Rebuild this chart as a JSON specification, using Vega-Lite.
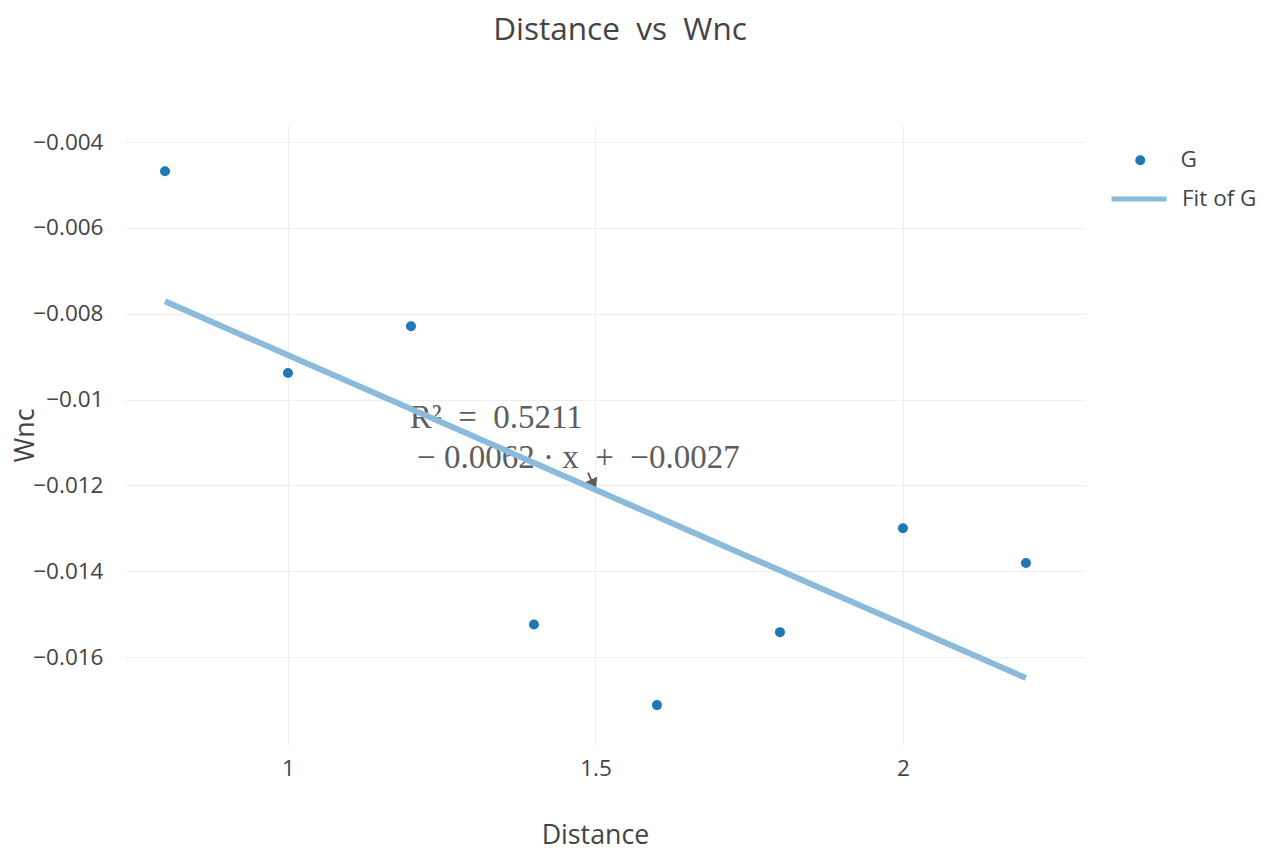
{
  "$schema": "https://vega.github.io/schema/vega-lite/v6.json",
  "width": 960,
  "height": 620,
  "autosize": {"type": "none"},
  "padding": {"left": 125, "top": 125, "right": 187, "bottom": 108},
  "background": "white",
  "config": {
    "view": {"stroke": null},
    "font": "Open Sans",
    "axis": {"domain": false, "ticks": false, "gridColor": "#eeeeee", "gridWidth": 1, "labelColor": "#444444", "titleColor": "#444444", "labelFont": "Open Sans", "titleFont": "Open Sans", "titleFontWeight": "normal"},
    "legend": {"labelFont": "Open Sans", "labelColor": "#444444", "labelFontSize": 22.5, "title": null}
  },
  "title": {"text": "Distance \u00a0vs \u00a0Wnc", "fontSize": 31.5, "font": "Open Sans", "fontWeight": "normal", "color": "#444444", "anchor": "middle", "baseline": "alphabetic", "offset": 54, "dx": 15},
  "datasets": {
    "pts": [
      {"Distance": 0.8, "Wnc": -0.00468, "series": "G"},
      {"Distance": 1.0, "Wnc": -0.00938, "series": "G"},
      {"Distance": 1.2, "Wnc": -0.00829, "series": "G"},
      {"Distance": 1.4, "Wnc": -0.01524, "series": "G"},
      {"Distance": 1.6, "Wnc": -0.01712, "series": "G"},
      {"Distance": 1.8, "Wnc": -0.01542, "series": "G"},
      {"Distance": 2.0, "Wnc": -0.0130, "series": "G"},
      {"Distance": 2.2, "Wnc": -0.01381, "series": "G"}
    ],
    "fit": [
      {"Distance": 0.8, "Wnc": -0.00771, "series": "Fit of G"},
      {"Distance": 2.2, "Wnc": -0.01649, "series": "Fit of G"}
    ],
    "ann": [
      {"x": 1.198, "y": -0.01066, "label": "R²\u2002=\u20020.5211"},
      {"x": 1.21, "y": -0.01159, "label": "− 0.0062 · x\u2002+\u2002−0.0027"}
    ],
    "arrow": [
      {"x": 1.488, "y": -0.01170, "x2": 1.498, "y2": -0.01204}
    ],
    "head": [
      {"x": 1.497, "y": -0.01198}
    ]
  },
  "layer": [
    {
      "data": {"name": "pts"},
      "mark": {"type": "point", "filled": true, "size": 100, "opacity": 1},
      "encoding": {
        "x": {"field": "Distance", "type": "quantitative", "scale": {"domain": [0.735, 2.296], "nice": false, "zero": false},
              "axis": {"values": [1, 1.5, 2], "format": "~g", "labelFontSize": 22.5, "labelPadding": 12, "title": "Distance", "titleFontSize": 26.8, "titleX": 470, "titleY": 98, "titleBaseline": "alphabetic", "titleAlign": "center", "grid": true}},
        "y": {"field": "Wnc", "type": "quantitative", "scale": {"domain": [-0.01805, -0.0036], "nice": false, "zero": false},
              "axis": {"values": [-0.016, -0.014, -0.012, -0.01, -0.008, -0.006, -0.004], "format": ".3~f", "labelFontSize": 22.5, "labelPadding": 22, "title": "Wnc", "titleFontSize": 26.8, "titleX": -100, "titleY": 310, "titleAngle": 270, "titleBaseline": "middle", "titleAlign": "center", "grid": true}},
        "fill": {"field": "series", "type": "nominal", "scale": {"domain": ["G"], "range": ["#1f77b4"]},
                 "legend": {"orient": "none", "legendX": 1004, "legendY": 24, "symbolSize": 100, "labelOffset": 29, "symbolOpacity": 1}}
      }
    },
    {
      "data": {"name": "ann"},
      "mark": {"type": "text", "font": "Liberation Serif", "fontSize": 33, "align": "left", "baseline": "alphabetic", "color": "#5e5e5e"},
      "encoding": {
        "x": {"field": "x", "type": "quantitative"},
        "y": {"field": "y", "type": "quantitative"},
        "text": {"field": "label"}
      }
    },
    {
      "data": {"name": "arrow"},
      "mark": {"type": "rule", "color": "#5e5e5e", "strokeWidth": 2},
      "encoding": {
        "x": {"field": "x", "type": "quantitative"},
        "y": {"field": "y", "type": "quantitative"},
        "x2": {"field": "x2"},
        "y2": {"field": "y2"}
      }
    },
    {
      "data": {"name": "head"},
      "mark": {"type": "point", "shape": "triangle-down", "filled": true, "size": 170, "angle": -24, "color": "#5e5e5e", "opacity": 1},
      "encoding": {
        "x": {"field": "x", "type": "quantitative"},
        "y": {"field": "y", "type": "quantitative"}
      }
    },
    {
      "data": {"name": "fit"},
      "mark": {"type": "line", "strokeWidth": 6, "strokeCap": "butt"},
      "encoding": {
        "x": {"field": "Distance", "type": "quantitative"},
        "y": {"field": "Wnc", "type": "quantitative"},
        "stroke": {"field": "series", "type": "nominal", "scale": {"domain": ["Fit of G"], "range": ["#8bbadc"]},
                   "legend": {"orient": "none", "legendX": 984, "legendY": 44, "symbolType": "stroke", "symbolSize": 3025, "symbolStrokeWidth": 5, "labelOffset": 13}}
      }
    }
  ]
}
